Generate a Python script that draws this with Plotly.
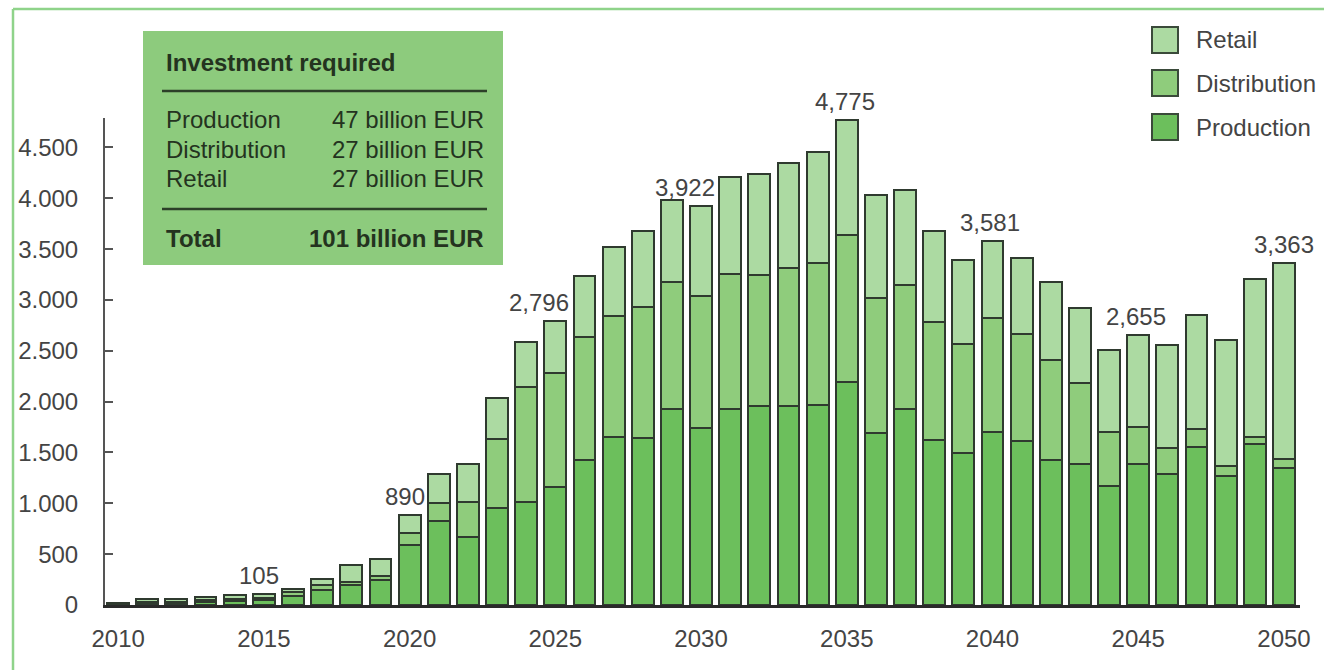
import plotly.graph_objects as go

# ---------------- data ----------------
years = list(range(2010, 2051))
production = [10, 15, 15, 25, 35, 46, 88, 150, 192, 250,
              590, 829, 665, 951, 1010, 1163, 1426, 1655, 1645, 1924,
              1737, 1924, 1957, 1957, 1970, 2197, 1694, 1932, 1627, 1497,
              1701, 1616, 1423, 1389, 1175, 1389, 1287, 1559, 1270, 1586,
              1348]
distribution = [5, 17, 17, 20, 25, 26, 38, 45, 35, 35,
                121, 177, 351, 681, 1130, 1115, 1212, 1187, 1288, 1249,
                1301, 1331, 1288, 1354, 1390, 1438, 1324, 1215, 1160, 1069,
                1123, 1045, 991, 797, 530, 363, 255, 176, 102, 68,
                92]
retail = [5, 30, 30, 37, 35, 33, 29, 65, 167, 165,
          179, 279, 367, 400, 443, 518, 600, 681, 748, 809,
          884, 956, 999, 1032, 1095, 1140, 1018, 933, 892, 825,
          757, 754, 766, 740, 804, 903, 1018, 1113, 1232, 1557,
          1923]

label_years = [2015, 2020, 2025, 2030, 2035, 2040, 2045, 2050]
label_texts = ["105", "890", "2,796", "3,922", "4,775", "3,581", "2,655", "3,363"]

x_tickvals = [2010, 2015, 2020, 2025, 2030, 2035, 2040, 2045, 2050]
y_tickvals = [0, 500, 1000, 1500, 2000, 2500, 3000, 3500, 4000, 4500]
y_ticktext = ["0", "500", "1.000", "1.500", "2.000", "2.500", "3.000", "3.500", "4.000", "4.500"]

series_names = ["Production", "Distribution", "Retail"]
legend_order = ["Retail", "Distribution", "Production"]

box_title = "Investment required"
box_rows = [("Production", "47 billion EUR"),
            ("Distribution", "27 billion EUR"),
            ("Retail", "27 billion EUR")]
box_total = ("Total", "101 billion EUR")

# ---------------- style ----------------
W, H = 1324, 670
ML, MR, MT, MB = 105, 24, 118, 65
PW, PH = W - ML - MR, H - MT - MB

colors = {"Production": "#6cbf5c", "Distribution": "#8fcc7c", "Retail": "#acdaa2"}
outline = "#2f3a2f"
text_col = "#444444"
box_text = "#24331f"
FONT = "Liberation Sans, Arial, sans-serif"
FS = 24


def px(xp):
    return (xp - ML) / PW


def py(yp):
    return (H - MB - yp) / PH


fig = go.Figure()
for name, vals in zip(series_names, [production, distribution, retail]):
    fig.add_trace(go.Bar(
        x=years, y=vals, name=name, width=0.75,
        marker=dict(color=colors[name], line=dict(color=outline, width=2)),
        showlegend=False,
    ))

totals = [p + d + r for p, d, r in zip(production, distribution, retail)]
label_xshift = {2015: -5, 2020: -5, 2025: -16, 2030: -16, 2035: -2, 2040: -3, 2045: -2, 2050: 0}
for yr, txt in zip(label_years, label_texts):
    fig.add_annotation(x=yr, y=totals[years.index(yr)], text=txt, showarrow=False,
                       xanchor="center", yanchor="bottom", yshift=3,
                       xshift=label_xshift[yr],
                       font=dict(family=FONT, size=FS, color=text_col))

shapes = []
# outer frame (left and top edges)
shapes.append(dict(type="line", xref="paper", yref="paper",
                   x0=px(13), x1=px(W + 5), y0=py(9), y1=py(9),
                   line=dict(color="#8fd38a", width=2.5)))
shapes.append(dict(type="line", xref="paper", yref="paper",
                   x0=px(13), x1=px(13), y0=py(9), y1=py(H + 5),
                   line=dict(color="#8fd38a", width=2.5)))

# info box
shapes.append(dict(type="rect", xref="paper", yref="paper",
                   x0=px(143), x1=px(503), y0=py(31), y1=py(265),
                   fillcolor="#8dcb7d", line=dict(width=0), layer="above"))
for yl in (91, 209):
    shapes.append(dict(type="line", xref="paper", yref="paper",
                       x0=px(162), x1=px(487), y0=py(yl), y1=py(yl),
                       line=dict(color="#2c3f28", width=2.5), layer="above"))

fig.add_annotation(xref="paper", yref="paper", x=px(164), y=py(62), text="<b>" + box_title + "</b>",
                   showarrow=False, xanchor="left", yanchor="middle",
                   font=dict(family=FONT, size=FS, color=box_text))
row_y = [120, 149, 178]
for (lab, val), yy in zip(box_rows, row_y):
    fig.add_annotation(xref="paper", yref="paper", x=px(164), y=py(yy), text=lab,
                       showarrow=False, xanchor="left", yanchor="middle",
                       font=dict(family=FONT, size=FS, color=box_text))
    fig.add_annotation(xref="paper", yref="paper", x=px(486), y=py(yy), text=val,
                       showarrow=False, xanchor="right", yanchor="middle",
                       font=dict(family=FONT, size=FS, color=box_text))
fig.add_annotation(xref="paper", yref="paper", x=px(164), y=py(238), text="<b>" + box_total[0] + "</b>",
                   showarrow=False, xanchor="left", yanchor="middle",
                   font=dict(family=FONT, size=FS, color=box_text))
fig.add_annotation(xref="paper", yref="paper", x=px(486), y=py(238), text="<b>" + box_total[1] + "</b>",
                   showarrow=False, xanchor="right", yanchor="middle",
                   font=dict(family=FONT, size=FS, color=box_text))

# custom legend
leg_y = [40, 83, 127]
for name, yy in zip(legend_order, leg_y):
    shapes.append(dict(type="rect", xref="paper", yref="paper",
                       x0=px(1152), x1=px(1178), y0=py(yy - 13), y1=py(yy + 13),
                       fillcolor=colors[name], line=dict(color="#3a4a3a", width=2)))
    fig.add_annotation(xref="paper", yref="paper", x=px(1194), y=py(yy), text=name,
                       showarrow=False, xanchor="left", yanchor="middle",
                       font=dict(family=FONT, size=FS, color=text_col))

fig.update_layout(
    width=W, height=H,
    margin=dict(l=ML, r=MR, t=MT, b=MB),
    paper_bgcolor="white", plot_bgcolor="white",
    barmode="stack", bargap=0.25,
    shapes=shapes,
    font=dict(family=FONT, size=FS, color=text_col),
    xaxis=dict(range=[2009.55, 2050.55], tickvals=x_tickvals, showgrid=False, zeroline=False,
               showline=True, linecolor="#2a2a2a", linewidth=3, ticks="",
               ticklabelstandoff=10, tickfont=dict(size=FS, color=text_col)),
    yaxis=dict(range=[0, 4790], tickvals=y_tickvals, ticktext=y_ticktext, showgrid=False,
               zeroline=False, showline=True, linecolor="#555555", linewidth=2,
               ticks="inside", ticklen=8, tickwidth=2, tickcolor="#555555",
               ticklabelstandoff=20, tickfont=dict(size=FS, color=text_col)),
)

fig.write_html("out.html")
